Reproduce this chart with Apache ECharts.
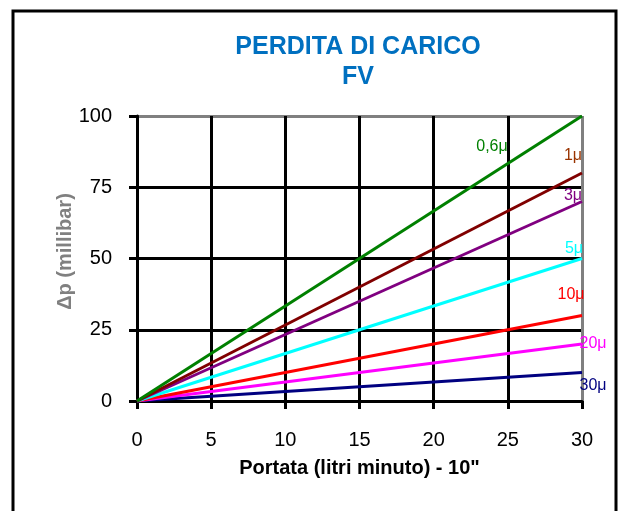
<!DOCTYPE html>
<html>
<head>
<meta charset="utf-8">
<script src="https://cdn.jsdelivr.net/npm/echarts@6/dist/echarts.min.js"></script>
<style>
  html, body { margin: 0; padding: 0; background: #fff; }
  #chart { width: 622px; height: 511px; }
</style>
</head>
<body>
<div id="chart"></div>
<script>
// portata (l/min) and perdita di carico (mbar) for each filter grade
var portata = [0, 30];
var dp06 = [0, 100];
var dp1 = [0, 80];
var dp3 = [0, 70];
var dp5 = [0, 50];
var dp10 = [0, 30];
var dp20 = [0, 20];
var dp30 = [0, 10];
var yTicks = [0, 25, 50, 75, 100];
var xTicks = [0, 5, 10, 15, 20, 25, 30];

function pairs(ys) {
    return portata.map(function (x, i) { return [x, ys[i]]; });
}

function serie(name, ys, color, labelColor, off) {
    return {
        name: name,
        type: 'line',
        data: pairs(ys),
        symbol: 'none',
        lineStyle: { color: color, width: 3 },
        itemStyle: { color: color },
        silent: true,
        endLabel: {
            show: true,
            formatter: '{a}',
            color: labelColor,
            fontFamily: 'Liberation Sans',
            fontSize: 16,
            align: 'center',
            verticalAlign: 'middle',
            distance: 0,
            offset: off
        }
    };
}

var chart = echarts.init(document.getElementById('chart'));

var option = {
    animation: false,
    backgroundColor: '#fff',
    title: {
        text: 'PERDITA DI CARICO\nFV',
        left: 353,
        top: 27,
        textAlign: 'center',
        textStyle: {
            color: '#0070C0',
            fontFamily: 'Liberation Sans',
            fontWeight: 'bold',
            fontSize: 25,
            lineHeight: 30
        }
    },
    graphic: [{
        type: 'rect',
        shape: { x: 13, y: 11, width: 603, height: 520 },
        style: { fill: null, stroke: '#000', lineWidth: 3 },
        z: 100
    }],
    grid: { left: 137, right: 40, top: 116, bottom: 110 },
    xAxis: {
        type: 'value',
        min: xTicks[0],
        max: xTicks[xTicks.length - 1],
        interval: 5,
        name: 'Portata (litri minuto) - 10"',
        nameLocation: 'middle',
        nameGap: 57,
        nameMoveOverlap: false,
        nameTextStyle: { color: '#000', fontFamily: 'Liberation Sans', fontWeight: 'bold', fontSize: 20 },
        axisLine: { show: true, lineStyle: { color: '#000', width: 3 } },
        axisTick: { show: true, length: 8, lineStyle: { color: '#000', width: 3 } },
        axisLabel: { color: '#000', fontFamily: 'Liberation Sans', fontSize: 20, margin: 29 },
        splitLine: { show: true, lineStyle: { color: ['#000', '#000', '#000', '#000', '#000', '#000', '#808080'], width: 3 } }
    },
    yAxis: {
        type: 'value',
        min: yTicks[0],
        max: yTicks[yTicks.length - 1],
        interval: 25,
        name: 'Δp (millibar)',
        nameLocation: 'middle',
        nameGap: 62,
        nameRotate: 90,
        nameMoveOverlap: false,
        nameTextStyle: { color: '#808080', fontFamily: 'Liberation Sans', fontWeight: 'bold', fontSize: 20, padding: [0, 0, 0, 14] },
        axisLine: { show: true, lineStyle: { color: '#000', width: 3 } },
        axisTick: { show: true, length: 8, lineStyle: { color: '#000', width: 3 } },
        axisLabel: { color: '#000', fontFamily: 'Liberation Sans', fontSize: 20, margin: 25 },
        splitLine: { show: true, lineStyle: { color: ['#000', '#000', '#000', '#000', '#808080'], width: 3 } }
    },
    series: [
        serie('30μ', dp30, '#000080', '#000080', [11, 13]),
        serie('20μ', dp20, '#FF00FF', '#FF00FF', [11, 0]),
        serie('10μ', dp10, '#FF0000', '#FF0000', [-11, -21]),
        serie('5μ', dp5, '#00FFFF', '#00FFFF', [-8, -10]),
        serie('3μ', dp3, '#800080', '#800080', [-9, -6]),
        serie('1μ', dp1, '#800000', '#993300', [-9, -17]),
        serie('0,6μ', dp06, '#008000', '#008000', [-90, 31])
    ]
};

chart.setOption(option);
</script>
</body>
</html>
